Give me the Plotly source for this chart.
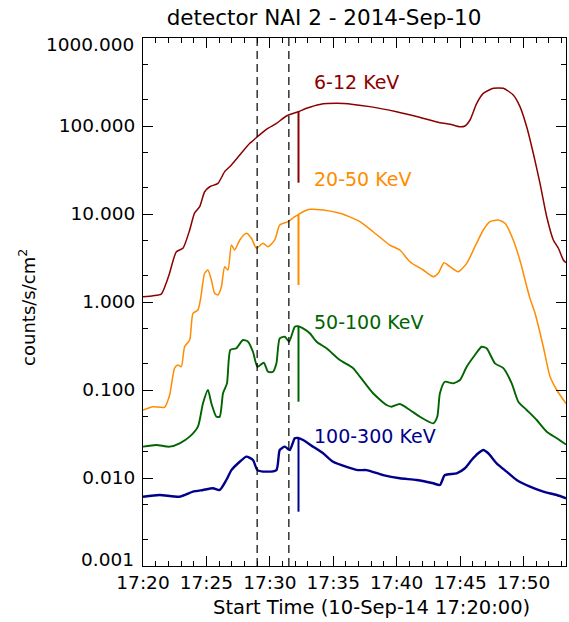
import math
import plotly.graph_objects as go

# time in minutes after 17:20:00 (10-Sep-2014)
t_612 = [0.00, 0.80, 1.44, 1.80, 2.10, 2.63, 3.15, 3.68, 4.07, 4.47, 4.86, 5.26, 5.91, 6.44,
         6.97, 7.63, 8.42, 9.02, 9.73, 10.52, 11.31, 12.23, 12.89, 13.94, 15.26, 16.57,
         17.88, 19.99, 21.57, 23.41, 24.20, 24.99, 25.38, 25.78, 26.31, 26.83, 27.62, 28.41,
         29.19, 29.72, 30.25, 30.77, 31.30, 31.83, 32.35, 32.75, 33.14, 33.35]
v_612 = [1.15, 1.18, 1.23, 1.6, 2.14, 3.73, 4.08, 6.58, 10.3, 12.1, 17.9, 20.4, 22.3, 30.3,
         36.1, 46.8, 63.6, 75.5, 91.8, 107, 130, 145, 159, 176, 181, 176,
         166, 145, 128, 109, 105, 98, 100, 117, 181, 235, 268, 268,
         225, 166, 98, 49, 22.3, 9.3, 5.07, 4.08, 3.0, 2.8]

t_2050 = [0.00, 0.78, 1.70, 2.10, 2.49, 2.75, 3.02, 3.28, 3.68, 3.94, 4.33, 4.55, 4.86, 5.12,
          5.39, 5.65, 5.91, 6.18, 6.44, 6.70, 6.97, 7.23, 7.63, 8.15, 8.55, 8.94, 9.46, 9.86,
          10.39, 10.78, 11.44, 11.97, 12.23, 12.62, 13.15, 14.20, 15.52, 16.57,
          17.10, 18.14, 19.46, 20.25, 21.04, 22.09, 22.88, 23.28, 23.73, 24.20, 24.85, 25.52,
          26.17, 26.83, 27.36, 28.01, 28.54, 29.19, 29.86, 30.12, 30.51, 30.91, 31.56, 32.09,
          32.62, 33.35]
v_2050 = [0.0593, 0.0646, 0.0636, 0.0878, 0.177, 0.192, 0.184, 0.310, 0.370, 0.744, 0.811, 1.11,
          2.12, 2.31, 1.78, 1.26, 1.20, 1.49, 2.52, 2.31, 4.44, 3.90, 5.07, 6.04, 5.30, 4.08,
          4.65, 4.25, 5.07, 7.50, 8.18, 9.31, 9.8, 10.6, 11.3, 11.1, 10.2, 8.93,
          8.18, 6.29, 4.44, 3.90, 2.87, 2.31, 1.94, 2.12, 2.80, 2.52, 2.21, 2.75,
          4.25, 6.58, 8.18, 8.55, 7.84, 5.07, 2.52, 1.78, 1.10, 0.744, 0.310, 0.142,
          0.100, 0.0700]

t_50100 = [0.00, 1.05, 2.10, 2.89, 3.68, 4.33, 4.73, 5.12, 5.39, 5.79, 6.05, 6.31, 6.62, 6.89,
           7.36, 7.88, 8.28, 8.67, 9.02, 9.52, 9.86, 10.25, 10.52, 10.78, 11.18, 11.52, 11.97,
           12.23, 12.62, 13.15, 13.68, 14.47, 15.52, 16.57, 17.10, 18.14, 19.20,
           19.60, 20.25, 21.04, 21.83, 22.88, 23.20, 23.41, 23.80, 24.46, 24.99, 25.52, 26.17,
           26.70, 27.09, 27.75, 28.41, 29.07, 29.59, 30.25, 31.04, 31.83, 32.62, 33.35]
v_50100 = [0.0227, 0.0237, 0.0227, 0.0248, 0.0295, 0.0383, 0.0706, 0.100, 0.0706, 0.0497,
           0.0497, 0.0918, 0.119, 0.285, 0.298, 0.370, 0.354, 0.272, 0.184, 0.204, 0.161,
           0.161, 0.201, 0.387, 0.403, 0.354, 0.524, 0.53, 0.502, 0.441, 0.354,
           0.298, 0.219, 0.177, 0.142, 0.0918, 0.0675, 0.0646, 0.0693, 0.0593, 0.0497, 0.0418,
           0.0497, 0.0918, 0.124, 0.119, 0.130, 0.184, 0.250, 0.310, 0.298, 0.201, 0.177,
           0.119, 0.0736, 0.0593, 0.0456, 0.0336, 0.0283, 0.0240]

t_100300 = [0.00, 1.31, 2.89, 3.94, 4.73, 5.52, 6.05, 6.57, 6.97, 7.63, 8.15, 8.67, 9.02, 9.73,
            10.52, 10.78, 11.18, 11.57, 11.97, 12.23, 12.62, 13.41, 14.20, 14.99,
            16.05, 16.96, 17.62, 18.93, 20.25, 21.57, 22.88, 23.41, 23.80, 24.73, 25.38, 25.91,
            26.43, 26.83, 27.22, 27.88, 28.67, 29.46, 30.51, 31.56, 32.62, 33.35]
v_100300 = [0.00613, 0.00641, 0.00613, 0.00699, 0.00731, 0.00764, 0.00731, 0.00949, 0.0123,
            0.0153, 0.0175, 0.0160, 0.0123, 0.0118, 0.0123, 0.0208, 0.0227, 0.0208, 0.0283,
            0.0285, 0.0270, 0.0227, 0.0191, 0.0153, 0.0134, 0.0123, 0.0123,
            0.0108, 0.00993, 0.00949, 0.00871, 0.00832, 0.0108, 0.0113, 0.0129, 0.0160, 0.0191,
            0.0208, 0.0191, 0.0147, 0.0118, 0.00949, 0.00796, 0.00699, 0.00641, 0.00588]

# single-sample dropout in all channels at ~17:32:16
spike_t = 12.26
spike_top = [146, 9.9, 0.53, 0.0285]
spike_min = [22.7, 1.56, 0.0736, 0.00414]

series_names = ["6-12 KeV", "20-50 KeV", "50-100 KeV", "100-300 KeV"]
series_colors = ["#8b0000", "#ff8c00", "#006400", "#00008b"]
label_pos_t = [13.3, 13.3, 13.3, 13.3]
label_pos_v = [316, 24.7, 0.585, 0.0304]

marker_times = [9.0, 11.5]  # dashed lines at 17:29:00 and 17:31:30

x_tick_vals = [0, 5, 10, 15, 20, 25, 30]
x_tick_text = ["17:20", "17:25", "17:30", "17:35", "17:40", "17:45", "17:50"]
y_tick_vals = [1000, 100, 10, 1, 0.1, 0.01, 0.001]
y_tick_text = ["1000.000", "100.000", "10.000", "1.000", "0.100", "0.010", "0.001"]

FONT = "DejaVu Sans, sans-serif"
TICKSIZE = 18.5

fig = go.Figure()
data = [(t_612, v_612), (t_2050, v_2050), (t_50100, v_50100), (t_100300, v_100300)]
widths = [1.5, 1.5, 1.9, 2.4]
for (tt, vv), name, col, w, st, sm in zip(data, series_names, series_colors, widths,
                                          spike_top, spike_min):
    fig.add_trace(go.Scatter(x=tt, y=vv, mode="lines", name=name,
                             line=dict(color=col, width=w, shape="spline", smoothing=0.6),
                             showlegend=False))
    fig.add_trace(go.Scatter(x=[spike_t, spike_t], y=[st, sm], mode="lines",
                             line=dict(color=col, width=2), showlegend=False))

for name, col, tx, vy in zip(series_names, series_colors, label_pos_t, label_pos_v):
    fig.add_annotation(x=tx, y=math.log10(vy), xref="x", yref="y", text=name,
                       showarrow=False, xanchor="left", yanchor="middle",
                       font=dict(family=FONT, size=19, color=col))

for mt in marker_times:
    fig.add_shape(type="line", xref="x", yref="paper", x0=mt, x1=mt, y0=0, y1=1,
                  line=dict(color="black", width=1.2, dash="8px,5px"))

# end labels of the y axis sit nudged inside the box, as in the original
inner_vals = y_tick_vals[1:-1]
inner_text = y_tick_text[1:-1]
for txt, py in ((y_tick_text[0], 0.9886), (y_tick_text[-1], 0.0114)):
    fig.add_annotation(xref="paper", yref="paper", x=-0.0154, y=py, text=txt,
                       showarrow=False, xanchor="right", yanchor="middle",
                       font=dict(family=FONT, size=TICKSIZE, color="black"))

fig.add_annotation(xref="paper", yref="paper", x=-0.274, y=0.489,
                   text="counts/s/cm<sup>2</sup>", textangle=-90, showarrow=False,
                   xanchor="center", yanchor="middle",
                   font=dict(family=FONT, size=18, color="black"))
fig.add_annotation(xref="paper", yref="paper", x=0.541, y=-0.0777,
                   text="Start Time (10-Sep-14 17:20:00)", showarrow=False,
                   xanchor="center", yanchor="middle",
                   font=dict(family=FONT, size=19.5, color="black"))

fig.update_layout(
    width=569, height=622,
    margin=dict(l=143, r=3, t=38, b=56),
    paper_bgcolor="white", plot_bgcolor="white",
    title=dict(text="detector NAI 2 - 2014-Sep-10", x=0.428, xref="paper", xanchor="center",
               y=0.9727, yref="container", yanchor="middle",
               font=dict(family=FONT, size=21.5, color="black")),
    xaxis=dict(range=[0, 33.35], showgrid=False, zeroline=False,
               showline=True, linecolor="black", linewidth=1, mirror="ticks",
               ticks="inside", ticklen=10, tickcolor="black", tickwidth=1,
               tickvals=x_tick_vals, ticktext=x_tick_text,
               tickfont=dict(family=FONT, size=TICKSIZE, color="black"),
               minor=dict(dtick=1, ticks="inside", ticklen=5, tickcolor="black",
                          showgrid=False)),
    yaxis=dict(type="log", range=[-3, 3], showgrid=False, zeroline=False,
               showline=True, linecolor="black", linewidth=1, mirror="ticks",
               ticks="inside", ticklen=10, tickcolor="black", tickwidth=1,
               tickvals=inner_vals, ticktext=inner_text, ticklabelstandoff=3,
               tickfont=dict(family=FONT, size=TICKSIZE, color="black"),
               minor=dict(ticks="inside", ticklen=5, tickcolor="black", showgrid=False)),
)

fig.write_html("out.html", config={"displayModeBar": False},
               post_script="document.body.style.margin='0';document.body.style.overflow='hidden';")
